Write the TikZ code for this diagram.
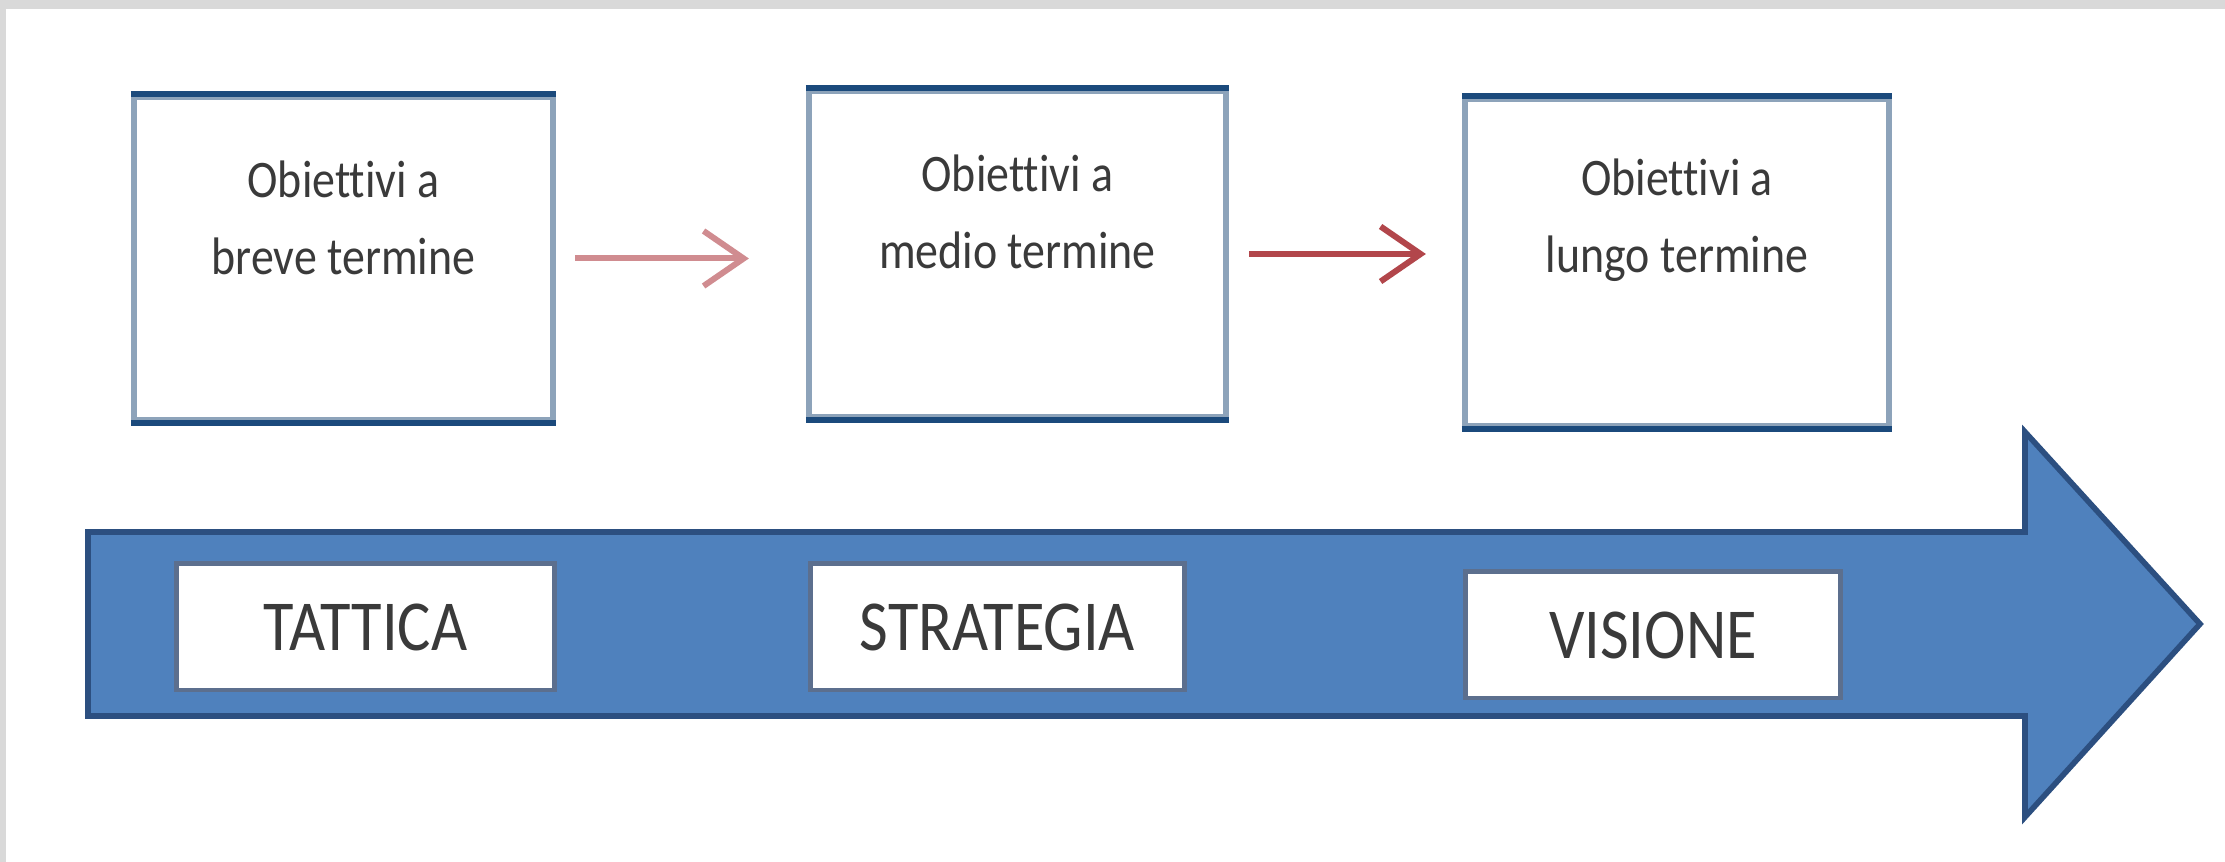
\documentclass[tikz,border=0pt]{standalone}
\usepackage{fontspec}
\setmainfont{Carlito}[FakeStretch=0.87, Ligatures=NoCommon]
\usetikzlibrary{arrows.meta}
\definecolor{framegray}{HTML}{D9D9D9}
\definecolor{navy}{HTML}{1B4A7C}
\definecolor{sideblue}{HTML}{8DA3BA}
\definecolor{bigfill}{HTML}{4F81BD}
\definecolor{bigline}{HTML}{2C4F80}
\definecolor{lblline}{HTML}{5C6F8E}
\definecolor{redA}{HTML}{D08C90}
\definecolor{redB}{HTML}{B2464B}
\definecolor{txt}{HTML}{3A3A3A}
\begin{document}
\begin{tikzpicture}[x=0.01cm,y=-0.01cm,
  goal/.style={draw=sideblue, line width=1.7pt, fill=white, inner sep=0pt},
  goaltext/.style={text=txt, align=center, font=\fontsize{15}{22}\selectfont, inner sep=0pt},
  label/.style={draw=lblline, line width=1.4pt, fill=white, inner sep=0pt,
    minimum height=1.26cm, text=txt, font=\fontsize{20.4}{22}\selectfont},
  link/.style={line width=1.7pt, -{Straight Barb[length=0.4cm, width=0.55cm]}}]
\useasboundingbox (0,0) rectangle (2225,862);
\fill[white] (0,0) rectangle (2225,862);
\fill[framegray] (0,0) rectangle (2225,9);
\fill[framegray] (0,0) rectangle (6,862);

% goal boxes
\node[goal, minimum width=4.19cm, minimum height=3.23cm] (b1) at (343.5,258.5) {};
\node[goal, minimum width=4.17cm, minimum height=3.26cm] (b2) at (1017.5,254) {};
\node[goal, minimum width=4.24cm, minimum height=3.27cm] (b3) at (1677,262.5) {};
\foreach \b in {b1,b2,b3}{
  \draw[navy, line width=1.7pt] (\b.north west) -- (\b.north east);
  \draw[navy, line width=1.7pt] (\b.south west) -- (\b.south east);
}
\node[goaltext] (t1) at ([yshift=-1.24cm]b1.north) {Obiettivi a\\breve termine};
\node[goaltext] (t2) at ([yshift=-1.24cm]b2.north) {Obiettivi a\\medio termine};
\node[goaltext] (t3) at ([yshift=-1.24cm]b3.north) {Obiettivi a\\lungo termine};

% connectors
\draw[link, redA, shorten <=0.19cm, shorten >=0.57cm] (b1.east) -- (b2.west |- b1.east);
\draw[link, redB, shorten <=0.2cm, shorten >=0.36cm] (b2.east) -- (b3.west |- b2.east);

% big timeline arrow
\draw[bigline, fill=bigfill, line width=1.6pt, line join=miter]
  (88,532) -- (2025,532) -- (2025,432) -- (2200,624) -- (2025,817) -- (2025,716) -- (88,716) -- cycle;

% labels
\node[label, minimum width=3.77cm] (l1) at (365.5,627) {TATTICA};
\node[label, minimum width=3.73cm] (l2) at (997.5,627) {STRATEGIA};
\node[label, minimum width=3.74cm] (l3) at (1653,635) {VISIONE};
\end{tikzpicture}
\end{document}
